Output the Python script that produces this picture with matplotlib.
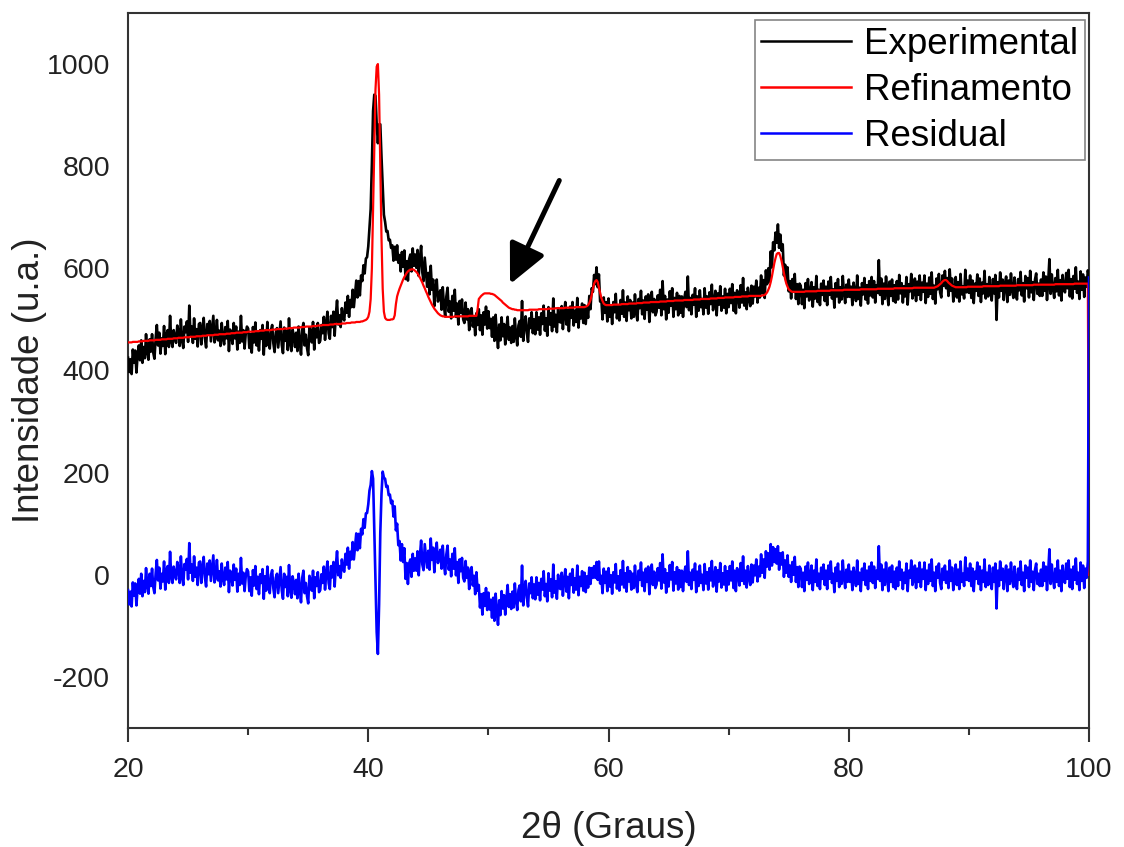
import numpy as np
import matplotlib
matplotlib.use("Agg")
import matplotlib.pyplot as plt

plt.rcParams["font.family"] = ["Liberation Sans", "DejaVu Sans"]
plt.rcParams["axes.unicode_minus"] = False

# 2theta grid, 0.1 degree step from 20 to 100
two_theta = np.linspace(20, 100, 801)

# Rietveld calculated pattern (one row = 2 degrees)
refinamento = [
    455, 455, 455, 455, 456, 456, 456, 456, 456, 457, 457, 457, 457, 458, 458, 458, 458, 458, 459, 459,  # 20
    459, 459, 459, 460, 460, 460, 460, 460, 461, 461, 461, 461, 461, 462, 462, 462, 462, 462, 463, 463,  # 22
    463, 463, 464, 464, 464, 464, 464, 465, 465, 465, 465, 465, 466, 466, 466, 466, 466, 467, 467, 467,  # 24
    467, 467, 468, 468, 468, 468, 469, 469, 469, 469, 469, 469, 470, 470, 470, 470, 471, 471, 471, 471,  # 26
    471, 471, 472, 472, 472, 472, 473, 473, 473, 473, 474, 474, 474, 474, 474, 474, 475, 475, 475, 475,  # 28
    476, 476, 476, 476, 476, 476, 477, 477, 477, 477, 478, 478, 478, 478, 479, 479, 479, 479, 479, 479,  # 30
    480, 480, 480, 480, 481, 481, 481, 481, 481, 481, 482, 482, 482, 482, 483, 483, 483, 483, 484, 484,  # 32
    484, 484, 484, 484, 485, 485, 485, 485, 486, 486, 486, 486, 486, 486, 487, 487, 487, 487, 488, 488,  # 34
    488, 488, 489, 489, 489, 489, 489, 489, 490, 490, 490, 490, 491, 491, 491, 491, 491, 491, 492, 492,  # 36
    492, 492, 493, 493, 493, 493, 494, 494, 494, 494, 495, 495, 495, 495, 496, 496, 497, 498, 499, 501,  # 38
    505, 515, 540, 600, 720, 850, 950, 995, 1000, 940, 800, 660, 560, 515, 503, 500, 499, 499, 499, 500,  # 40
    500, 501, 508, 530, 545, 553, 560, 566, 572, 578, 583, 587, 591, 594, 596, 597, 598, 598, 597, 595,  # 42
    593, 590, 586, 582, 577, 572, 566, 561, 555, 550, 544, 539, 534, 529, 525, 521, 518, 515, 512, 510,  # 44
    508, 507, 506, 506, 505, 505, 505, 505, 505, 505, 505, 505, 506, 506, 506, 506, 506, 506, 506, 506,  # 46
    506, 506, 506, 506, 507, 507, 507, 507, 507, 507, 507, 520, 540, 543, 546, 548, 550, 551, 551, 551,  # 48
    551, 551, 550, 550, 549, 548, 546, 544, 542, 540, 538, 536, 533, 531, 529, 527, 525, 523, 522, 521,  # 50
    520, 520, 519, 519, 518, 518, 518, 518, 518, 518, 518, 518, 518, 518, 519, 519, 519, 519, 519, 519,  # 52
    519, 519, 520, 520, 520, 520, 520, 520, 520, 520, 521, 521, 521, 521, 521, 521, 522, 522, 522, 522,  # 54
    522, 522, 522, 522, 523, 523, 523, 523, 523, 523, 523, 523, 524, 524, 524, 524, 524, 524, 524, 524,  # 56
    524, 525, 526, 528, 532, 538, 548, 560, 570, 575, 577, 573, 562, 552, 542, 536, 531, 529, 528, 528,  # 58
    528, 528, 528, 528, 529, 529, 529, 529, 529, 529, 529, 530, 530, 530, 530, 530, 530, 531, 531, 531,  # 60
    531, 531, 531, 531, 532, 532, 532, 532, 532, 533, 533, 533, 533, 533, 533, 534, 534, 534, 534, 534,  # 62
    534, 534, 534, 535, 535, 535, 535, 535, 535, 536, 536, 536, 536, 536, 536, 537, 537, 537, 537, 537,  # 64
    537, 537, 537, 538, 538, 538, 538, 538, 538, 538, 538, 539, 539, 539, 539, 539, 539, 540, 540, 540,  # 66
    540, 540, 540, 540, 540, 541, 541, 541, 541, 541, 541, 542, 542, 542, 542, 542, 542, 543, 543, 543,  # 68
    543, 543, 543, 543, 543, 544, 544, 544, 544, 544, 544, 545, 545, 545, 545, 545, 545, 546, 546, 546,  # 70
    546, 546, 546, 546, 546, 546, 546, 546, 547, 547, 548, 550, 553, 558, 564, 573, 584, 597, 610, 620,  # 72
    628, 630, 630, 624, 615, 603, 590, 579, 570, 564, 559, 557, 555, 554, 554, 554, 554, 554, 554, 554,  # 74
    554, 554, 554, 554, 555, 555, 555, 555, 555, 555, 555, 555, 555, 555, 556, 556, 556, 556, 556, 556,  # 76
    556, 556, 556, 556, 556, 557, 557, 557, 557, 557, 557, 557, 557, 557, 557, 557, 558, 558, 558, 558,  # 78
    558, 558, 558, 558, 558, 558, 558, 558, 558, 558, 559, 559, 559, 559, 559, 559, 559, 559, 559, 559,  # 80
    559, 559, 559, 559, 560, 560, 560, 560, 560, 560, 560, 560, 560, 560, 560, 560, 560, 560, 561, 561,  # 82
    561, 561, 561, 561, 561, 561, 561, 561, 561, 561, 561, 561, 561, 561, 562, 562, 562, 562, 562, 562,  # 84
    562, 562, 562, 562, 562, 562, 562, 562, 562, 562, 562, 562, 563, 564, 565, 567, 569, 571, 574, 576,  # 86
    577, 577, 575, 572, 570, 568, 566, 565, 564, 563, 563, 563, 563, 563, 563, 563, 563, 563, 563, 564,  # 88
    564, 564, 564, 564, 564, 564, 564, 564, 564, 564, 564, 564, 565, 565, 565, 565, 565, 565, 565, 565,  # 90
    565, 565, 565, 565, 565, 565, 566, 566, 566, 566, 566, 566, 566, 566, 566, 566, 566, 566, 566, 566,  # 92
    567, 567, 567, 567, 567, 567, 567, 567, 567, 567, 567, 567, 567, 567, 568, 568, 568, 568, 568, 568,  # 94
    568, 568, 568, 568, 568, 568, 568, 568, 568, 568, 568, 568, 569, 569, 569, 569, 569, 569, 569, 569,  # 96
    569, 569, 569, 569, 569, 569, 569, 569, 570, 570, 570, 570, 570, 570, 570, 570, 570, 570, 570, 570,  # 98
    0,                                                                                                  # 100
]

# Difference curve (experimental - calculated)
residual = [
    -30, -58, -33, -62, -15, -41, -17, -60, -25, -8, -37, 2, -42, -12, -34, 13, -21, -37, 2, -22,       # 20
    12, -24, -36, 3, 29, -11, 14, -27, 2, -13, 26, -29, 10, 17, -16, 45, -5, -16, 16, 2,               # 22
    -9, 25, 13, -16, 36, -4, -20, 21, 10, 31, -9, 62, 4, 20, -12, 36, -4, 14, -20, 24,                 # 24
    26, -16, 14, 35, -5, -23, 22, 1, 28, -12, 14, 38, -15, -4, 29, -11, 7, -23, 22, -8,                # 26
    -20, 14, -9, 25, -34, 8, 0, -21, 20, -10, 12, -33, 2, -20, 33, -17, 4, -32, -3, 11,                # 28
    6, -32, -5, -41, 9, -21, 17, -28, -4, -38, 1, -16, 11, -47, -3, -31, 16, -22, -36, 0,              # 30
    9, -27, -44, -6, 2, -36, -11, 15, -31, -47, 2, -24, -4, -42, 19, -29, -45, -3, -16, -38,           # 32
    -10, -46, 2, -28, -54, -6, 8, -36, -16, -42, -56, -2, -11, -31, 8, -46, -5, -22, 5, -34,           # 34
    -30, 1, -16, 16, -29, 3, 26, -16, -28, 17, -5, 25, -23, 18, 46, -1, 17, -6, 30, 11,                # 36
    6, 41, 20, 53, 12, 45, 30, 64, 30, 56, 81, 48, 80, 52, 90, 79, 109, 92, 120, 121,                  # 38
    138, 165, 176, 203, 188, 90, -12, -112, -155, -58, 82, 158, 202, 190, 188, 172, 174, 156, 157, 140,  # 40
    145, 114, 134, 87, 100, 58, 66, 28, 60, 25, 52, -8, 23, -18, 22, 30, -4, 41, 8, 32,                # 42
    8, 46, -1, 38, 67, 20, 9, 60, 37, 14, 47, 10, 71, 29, 53, 5, 45, 63, 23, 38,                       # 44
    49, 12, 57, 20, 1, 40, 57, 10, 30, -3, 41, 12, 52, -1, 25, -16, 30, 7, 33, -6,                     # 46
    -13, 27, -6, 14, -28, 6, 15, -21, -2, -38, 5, -31, -20, -64, -38, -78, -36, -61, -26, -69,         # 48
    -35, -68, -49, -84, -45, -90, -37, -72, -98, -50, -79, -32, -66, -40, -78, -46, -20, -63, -38, -67,  # 50
    -33, -64, -17, -50, -69, -30, -21, -52, 18, -60, -29, -12, -45, -62, -17, -36, -5, -46, -19, -48,  # 52
    -5, -39, -16, -50, -8, -29, 7, -42, -18, -52, 3, -31, -9, -44, 20, -35, -13, -47, 0, -26,          # 54
    -28, 4, -41, -11, 11, -33, -4, -46, 2, -20, 11, -35, -7, -29, 18, -40, -4, -22, 7, -31,            # 56
    4, -34, -3, -25, 14, -18, 13, -6, 17, -6, 25, -10, 26, -17, -2, -36, 12, -16, 6, -32,              # 58
    13, -23, -1, -37, 5, -15, 21, -27, -3, -31, 9, -19, 27, -25, 3, -33, 15, -13, 7, -29,              # 60
    2, -26, 18, -18, -34, 8, -10, 24, -22, 4, -32, 12, -14, 16, -38, 0, 20, -20, 6, -26,               # 62
    -19, 13, -11, 23, -27, 40, -15, 11, -35, 3, -23, 19, -9, 25, -31, 5, -17, 15, -29, 9,              # 64
    -24, 8, -32, 2, 16, -14, 46, -20, 4, -28, 10, -10, 22, -34, 6, -22, 18, -16, 0, -30,               # 66
    21, -17, 5, -29, 13, -11, 27, -23, -7, 15, -33, 9, -13, 23, -25, 3, -19, 17, -31, 7,               # 68
    -19, 17, -11, 26, -26, 8, -32, 13, 3, -21, 23, -12, 36, -18, 8, -25, 17, -5, -20, 20,              # 70
    -15, 18, -1, 30, -13, 16, -3, 40, 4, 30, -6, 46, 16, 42, 10, 60, 18, 54, 25, 50,                   # 72
    22, 56, 10, 42, 20, 44, -4, 28, 4, 38, -4, 18, -14, 25, 0, 35, -14, 15, -24, 16,                   # 74
    12, -24, 4, -32, 16, -10, 24, -18, -4, 18, -30, 8, -14, 30, -22, 2, -28, 14, -8, 20,               # 76
    -20, 8, -28, 18, -8, 26, -16, 2, -34, 14, -12, 22, -24, 6, -18, 28, -6, -26, 10, -14,              # 78
    20, -14, 6, -30, 14, -6, -22, 28, -18, 4, -32, 12, -10, 22, -20, 8, -28, 16, -12, 24,              # 80
    -16, 16, -26, 8, -8, 56, -12, 20, -30, 10, -20, 24, -6, -32, 14, -14, 18, -24, 6, -28,             # 82
    14, -22, 26, -10, 10, -28, 4, -16, 22, -32, 8, -6, 28, -20, -10, 18, -26, 12, -14, 24,             # 84
    -24, 10, -8, 24, -30, 8, -18, 20, -12, 30, -22, 4, -32, 16, -6, 22, -16, -28, 12, -10,             # 86
    18, -16, 6, -26, 28, -12, 14, -30, -8, 20, -20, 10, -28, 26, -14, 2, -22, 34, -10, 12,             # 88
    -12, 22, -22, 12, -32, 6, -8, 24, -18, 16, -30, 8, -14, 30, -24, 4, -20, 18, -10, -28,             # 90
    14, -14, 22, -66, 8, -22, 26, -10, 12, -28, 4, 18, -32, 10, -18, 24, -8, -24, 16, -14,             # 92
    -28, 12, -10, 26, -20, 4, -32, 18, -6, 14, -24, 28, -14, 6, -30, 10, 22, -18, 2, -22,              # 94
    10, -22, 24, -12, 16, -30, 6, 50, -18, 20, -8, -26, 12, -14, 28, -22, 8, -32, 18, -10,             # 96
    -16, 22, -8, 28, -24, 10, -28, 16, -10, 32, -18, 4, -30, 24, -12, 18, -26, 12, -6, 26,             # 98
    582,                                                                                               # 100
]

refinamento = np.array(refinamento, dtype=float)
residual = np.array(residual, dtype=float)
experimental = refinamento + residual

x_ticks = [20, 40, 60, 80, 100]
y_ticks = [-200, 0, 200, 400, 600, 800, 1000]

fig = plt.figure(figsize=(11.24, 8.47), dpi=100)
ax = fig.add_axes([0.1139, 0.1405, 0.855, 0.8442])

# drawn above the spines so the final drop at 100 stays visible
ax.plot(two_theta, experimental, color="black", lw=1.9, label="Experimental", zorder=3)
ax.plot(two_theta, refinamento, color="red", lw=1.6, label="Refinamento", zorder=3)
ax.plot(two_theta, residual, color="blue", lw=1.9, label="Residual", zorder=3)

# arrow pointing at the small hump near 50 degrees
ax.annotate("", xy=(51.8, 569), xytext=(55.9, 772),
            arrowprops=dict(arrowstyle="-|>,head_length=2.4,head_width=1.15",
                            lw=3.6, color="black", shrinkA=0, shrinkB=0))

ax.set_xlim(20, 100)
ax.set_ylim(-300, 1100)
ax.set_xticks(x_ticks)
ax.set_xticks([30, 50, 70, 90], minor=True)
ax.set_yticks(y_ticks)

for side in ax.spines.values():
    side.set_color("#333333")
    side.set_linewidth(1.5)

ax.tick_params(axis="x", which="major", direction="out", length=10, width=1.5,
               color="#333333", labelsize=20.5, pad=11, labelcolor="#222222")
ax.tick_params(axis="x", which="minor", direction="out", length=5, width=1.5,
               color="#333333")
ax.tick_params(axis="y", which="both", length=0, labelsize=20.5, pad=13,
               labelcolor="#222222")

ax.set_xlabel("2θ (Graus)", fontsize=26.5, color="#222222", labelpad=20)
ax.set_ylabel("Intensidade (u.a.)", fontsize=26.5, color="#222222")
ax.yaxis.set_label_coords(-0.084, 0.487)

leg = ax.legend(loc="upper right", bbox_to_anchor=(0.9958, 0.99), borderaxespad=0,
                fontsize=26.5, handlelength=2.45, handletextpad=0.35,
                labelspacing=0.3, borderpad=0.18, fancybox=False)
leg.get_frame().set_edgecolor("#666666")
leg.get_frame().set_linewidth(1.2)
leg.set_zorder(5)
for handle in leg.get_lines():
    handle.set_linewidth(1.8)

plt.savefig("out.png", dpi=100)
